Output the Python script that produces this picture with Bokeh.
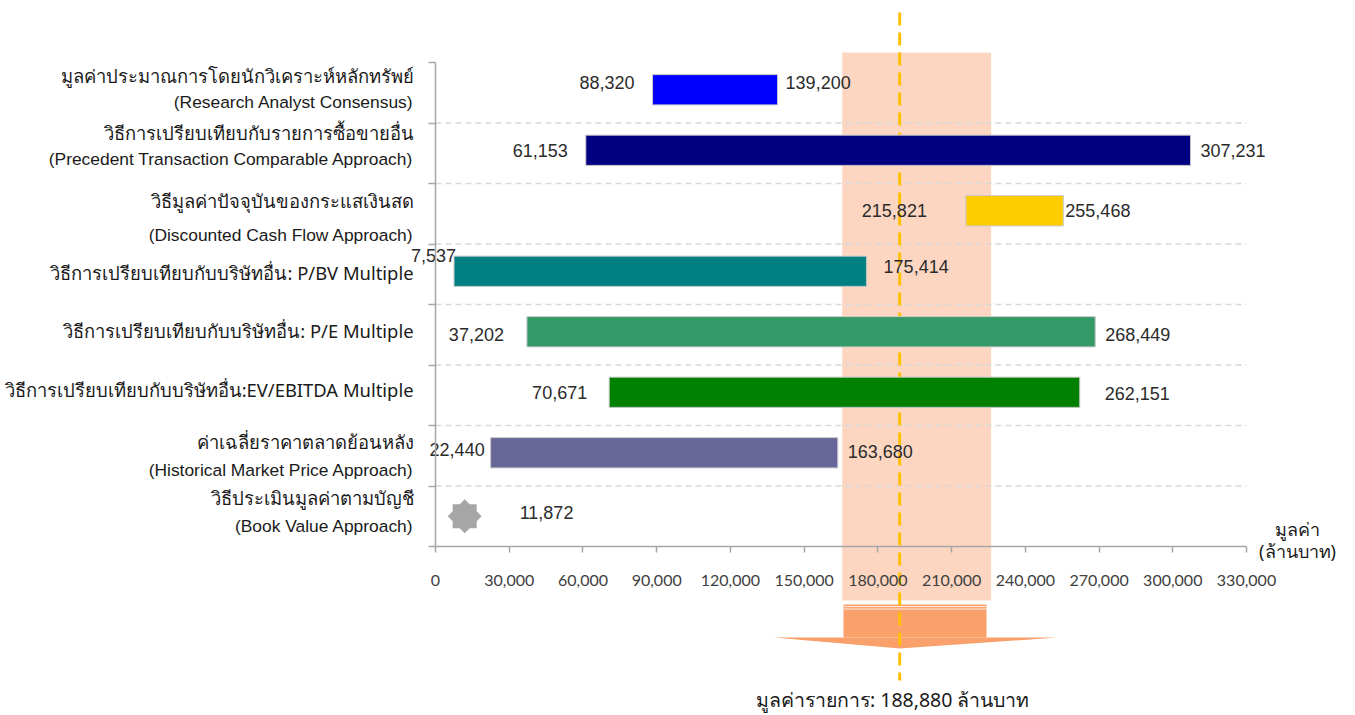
import math
from bokeh.plotting import figure
from bokeh.models import LinearAxis, FixedTicker, NumeralTickFormatter, Range1d
from bokeh.core.properties import value
from bokeh.embed import file_html
from bokeh.resources import INLINE

# ---------------- data ----------------
methods_th = [
    "มูลค่าประมาณการโดยนักวิเคราะห์หลักทรัพย์",
    "วิธีการเปรียบเทียบกับรายการซื้อขายอื่น",
    "วิธีมูลค่าปัจจุบันของกระแสเงินสด",
    "วิธีการเปรียบเทียบกับบริษัทอื่น: P/BV Multiple",
    "วิธีการเปรียบเทียบกับบริษัทอื่น: P/E Multiple",
    "วิธีการเปรียบเทียบกับบริษัทอื่น:EV/EBITDA Multiple",
    "ค่าเฉลี่ยราคาตลาดย้อนหลัง",
    "วิธีประเมินมูลค่าตามบัญชี",
]
methods_en = [
    "(Research Analyst Consensus)",
    "(Precedent Transaction Comparable Approach)",
    "(Discounted Cash Flow Approach)",
    "",
    "",
    "",
    "(Historical Market Price Approach)",
    "(Book Value Approach)",
]
low_values = [88320, 61153, 215821, 7537, 37202, 70671, 22440]
high_values = [139200, 307231, 255468, 175414, 268449, 262151, 163680]
book_value = 11872
bar_colors = ["#0000FF", "#000080", "#FFCC00", "#008080", "#339966", "#008000", "#666699"]
x_ticks = [0, 30000, 60000, 90000, 120000, 150000, 180000, 210000, 240000, 270000, 300000, 330000]
deal_value = 188880
fair_low = 165500
fair_high = 226100
axis_title = ["มูลค่า", "(ล้านบาท)"]
deal_text = "มูลค่ารายการ: {:,} ล้านบาท".format(deal_value)

# ---------------- layout (pixels) ----------------
W, H = 1355, 715
AX_X0, AX_X1 = 435, 1246      # pixel of x=0 and x=max tick
AX_YB, AX_YT = 546, 62        # pixel of bottom / top of category area
N = len(methods_th)
XMAX = x_ticks[-1]
ux = XMAX / (AX_X1 - AX_X0)   # data per pixel (x)
uy = N / (AX_YB - AX_YT)      # rows per pixel (y)


def ypix(px):
    return (AX_YB - px) * uy


centers = [N - k - 0.5 for k in range(N)]

# text offsets from row centres, in pixels (positive = down)
th_off = [-17, -21, -13, -2, -4, -6, -14, -19]
en_off = [9, 6, 21, 0, 0, 0, 14, 10]
lo_gap = [18, 18, 39, -2, 23, 22, 6]
lo_off = [-10, -3, -3, -19, 0, -3, -6]
hi_gap = [8, 10, 2, 17, 10, 25, 10]
hi_off = [-10, -3, -3, -8, 0, -2, -4]
BAR_SHIFT = 3  # bars sit ~3px above row centre

p = figure(width=W, height=H, output_backend="svg", toolbar_location=None,
           title=None, min_border=0, x_axis_type=None, y_axis_type=None,
           x_range=Range1d(-AX_X0 * ux, (W - AX_X0) * ux),
           y_range=Range1d(-(H - AX_YB) * uy, N + AX_YT * uy))
p.outline_line_color = None
p.background_fill_color = "white"
p.border_fill_color = "white"

# fair value band
p.quad(left=[fair_low], right=[fair_high], bottom=[ypix(600)], top=[ypix(52)],
       fill_color="#FCD6C1", line_color=None)

# dashed grid lines between rows
p.segment(x0=[0] * (N - 1), x1=[XMAX] * (N - 1), y0=list(range(1, N)), y1=list(range(1, N)),
          line_color="#D9D9D9", line_width=1.5, line_dash="6 4")

# arrow under the band
arrow_l, arrow_r = 166000, 224200
head_l, head_r = 137500, 253100
p.quad(left=[arrow_l], right=[arrow_r], bottom=[ypix(637)], top=[ypix(604)],
       fill_color="#F9A06B", line_color=None)
p.patch(x=[head_l, head_r, deal_value], y=[ypix(637), ypix(637), ypix(648)],
        fill_color="#F9A06B", line_color=None)
p.segment(x0=[arrow_l, arrow_l], x1=[arrow_r, arrow_r], y0=[ypix(606), ypix(608.5)],
          y1=[ypix(606), ypix(608.5)], line_color="white", line_width=1, line_alpha=0.8)

# deal value dashed line
p.segment(x0=[deal_value], x1=[deal_value], y0=[ypix(12)], y1=[ypix(680)],
          line_color="#FFC000", line_width=3, line_dash="13 7")

# bars
bar_y = [centers[k] + BAR_SHIFT * uy for k in range(len(low_values))]
p.hbar(y=bar_y, left=low_values, right=high_values, height=0.5,
       fill_color=bar_colors, line_color="#C8C8C8", line_width=1)

# book value marker (eight-point star from two squares)
for ang in (0, math.pi / 4):
    p.scatter(x=[book_value], y=[centers[7]], marker="square", size=24, angle=ang,
              fill_color="#A6A6A6", line_color=None)

VAL_FONT = value("Liberation Sans")
# value labels
p.text(x=low_values, y=[centers[k] - lo_off[k] * uy for k in range(len(low_values))],
       text=["{:,}".format(v) for v in low_values], x_offset=[-g for g in lo_gap],
       text_align="right", text_baseline="middle", text_font=VAL_FONT,
       text_font_size="18px", text_color="#2B2B2B")
p.text(x=high_values, y=[centers[k] - hi_off[k] * uy for k in range(len(high_values))],
       text=["{:,}".format(v) for v in high_values], x_offset=hi_gap,
       text_align="left", text_baseline="middle", text_font=VAL_FONT,
       text_font_size="18px", text_color="#2B2B2B")
p.text(x=[book_value], y=[centers[7] + 4 * uy], text=["{:,}".format(book_value)],
       x_offset=[55], text_align="left", text_baseline="middle", text_font=VAL_FONT,
       text_font_size="18px", text_color="#2B2B2B")

# category labels
TH_FONT = value("Noto Sans")
p.text(x=[0] * N, y=[centers[k] - th_off[k] * uy for k in range(N)], text=methods_th,
       x_offset=-22, text_align="right", text_baseline="middle", text_font=TH_FONT,
       text_font_size="18.4px", text_color="#1A1A1A")
en_idx = [k for k in range(N) if methods_en[k]]
p.text(x=[0] * len(en_idx), y=[centers[k] - en_off[k] * uy for k in en_idx],
       text=[methods_en[k] for k in en_idx], x_offset=-22, text_align="right",
       text_baseline="middle", text_font=VAL_FONT, text_font_size="17.4px",
       text_color="#1A1A1A")

# axis title at right end
p.text(x=[XMAX, XMAX], y=[ypix(528), ypix(550)], text=axis_title, x_offset=51,
       text_align="center", text_baseline="middle", text_font=TH_FONT,
       text_font_size="18px", text_color="#1A1A1A")

# deal value caption
p.text(x=[deal_value], y=[ypix(699)], text=[deal_text], x_offset=-7,
       text_align="center", text_baseline="middle", text_font=TH_FONT,
       text_font_size="19.5px", text_color="#1A1A1A")

# axes
xaxis = LinearAxis(fixed_location=0, ticker=FixedTicker(ticks=x_ticks), bounds=(0, XMAX),
                   formatter=NumeralTickFormatter(format="0,0"))
xaxis.major_tick_out = 6
xaxis.major_tick_in = 0
xaxis.minor_tick_out = 0
xaxis.minor_tick_in = 0
xaxis.axis_line_color = "#A6A6A6"
xaxis.axis_line_width = 1.5
xaxis.major_tick_line_color = "#A6A6A6"
xaxis.major_tick_line_width = 1.5
xaxis.major_label_standoff = 22
xaxis.major_label_text_font = "Lato"
xaxis.major_label_text_font_size = "16px"
xaxis.major_label_text_color = "#404040"
p.add_layout(xaxis, "below")

yaxis = LinearAxis(fixed_location=0, ticker=FixedTicker(ticks=list(range(N + 1))),
                   bounds=(0, N))
yaxis.major_label_overrides = {i: "" for i in range(N + 1)}
yaxis.major_tick_out = 7
yaxis.major_tick_in = 0
yaxis.minor_tick_out = 0
yaxis.minor_tick_in = 0
yaxis.axis_line_color = "#A6A6A6"
yaxis.axis_line_width = 1.5
yaxis.major_tick_line_color = "#A6A6A6"
yaxis.major_tick_line_width = 1.5
p.add_layout(yaxis, "left")

open("out.html", "w").write(file_html(p, INLINE))
